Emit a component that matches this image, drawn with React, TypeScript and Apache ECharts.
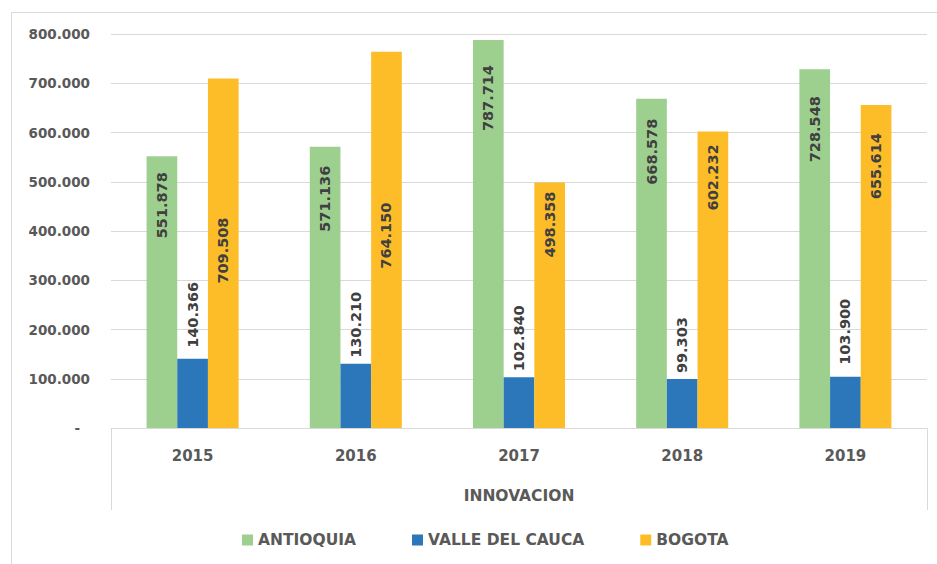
import React, { useEffect, useRef } from "react";
import * as echarts from "echarts";

const years = ["2015", "2016", "2017", "2018", "2019"];
const seriesNames = ["ANTIOQUIA", "VALLE DEL CAUCA", "BOGOTA"];
const antioquia = [551878, 571136, 787714, 668578, 728548];
const valle = [140366, 130210, 102840, 99303, 103900];
const bogota = [709508, 764150, 498358, 602232, 655614];
const axisTitle = "INNOVACION";

// label placement (style only): distance of label end from bar top, px
const antioquiaLabelDist = [16, 19, 25, 20, 27];
const valleLabelDist = [11, 6, 6, 6, 12];
const bogotaLabelDist = [139, 151, 9, 13, 28];

const FONT = "DejaVu Sans";

function fmt(v: number): string {
  const s = Math.round(v).toString();
  return s.replace(/\B(?=(\d{3})+(?!\d))/g, ".");
}

export default function App() {
  const ref = useRef<HTMLDivElement>(null);
  useEffect(() => {
    if (!ref.current) return;
    const chart = echarts.init(ref.current, null, { renderer: "svg" });
    const labelBase = {
      show: true,
      rotate: 90,
      fontFamily: FONT,
      fontWeight: "bold" as const,
      fontSize: 14.5,
      color: "#404040",
      formatter: (p: any) => fmt(p.value),
    };
    const insideTopData = (vals: number[], dists: number[]) =>
      vals.map((v, i) => ({
        value: v,
        label: { distance: dists[i] },
      }));
    chart.setOption({
      animation: false,
      backgroundColor: "#ffffff",
      grid: { left: 111, right: 10, top: 34, bottom: 136 },
      legend: {
        left: 237,
        top: 527,
        itemWidth: 11,
        itemHeight: 11,
        itemGap: 56,
        icon: "rect",
        textStyle: {
          fontFamily: FONT,
          fontWeight: "bold",
          fontSize: 15.5,
          color: "#595959",
        },
        data: seriesNames,
      },
      xAxis: {
        type: "category",
        data: years,
        name: axisTitle,
        nameLocation: "middle",
        nameGap: 60,
        nameTextStyle: {
          fontFamily: FONT,
          fontWeight: "bold",
          fontSize: 15.5,
          color: "#595959",
        },
        axisLine: { show: true, lineStyle: { color: "#d9d9d9", width: 1 } },
        axisTick: { show: false },
        axisLabel: {
          margin: 20,
          fontFamily: FONT,
          fontWeight: "bold",
          fontSize: 15,
          color: "#595959",
        },
      },
      yAxis: {
        type: "value",
        min: 0,
        max: 800000,
        interval: 100000,
        axisLine: { show: false },
        axisTick: { show: false },
        splitLine: { lineStyle: { color: "#d9d9d9", width: 1 } },
        axisLabel: {
          margin: 21,
          fontFamily: FONT,
          fontWeight: "bold",
          fontSize: 13.5,
          color: "#595959",
          formatter: (v: number) => (v === 0 ? "{z|-}" : fmt(v)),
          rich: {
            z: {
              fontFamily: FONT,
              fontWeight: "bold",
              fontSize: 13.5,
              color: "#595959",
              padding: [0, 10, 0, 0],
            },
          },
        },
      },
      series: [
        {
          name: seriesNames[0],
          type: "bar",
          data: insideTopData(antioquia, antioquiaLabelDist),
          barGap: "0%",
          barCategoryGap: "43.6%",
          itemStyle: { color: "#9DD08F" },
          label: { ...labelBase, position: "insideTop", align: "right", verticalAlign: "middle" },
        },
        {
          name: seriesNames[1],
          type: "bar",
          data: insideTopData(valle, valleLabelDist),
          barGap: "0%",
          barCategoryGap: "43.6%",
          itemStyle: { color: "#2B77B9" },
          label: { ...labelBase, position: "top", align: "left", verticalAlign: "middle" },
        },
        {
          name: seriesNames[2],
          type: "bar",
          data: insideTopData(bogota, bogotaLabelDist),
          barGap: "0%",
          barCategoryGap: "43.6%",
          itemStyle: { color: "#FDBD28" },
          label: { ...labelBase, position: "insideTop", align: "right", verticalAlign: "middle" },
        },
      ],
      graphic: [
        {
          type: "rect",
          silent: true,
          shape: { x: 11.5, y: 12.5, width: 940, height: 570 },
          style: { fill: "none", stroke: "#d9d9d9", lineWidth: 1 },
          z: -1,
        },
        {
          type: "line",
          silent: true,
          shape: { x1: 111.5, y1: 428, x2: 111.5, y2: 510 },
          style: { stroke: "#d9d9d9", lineWidth: 1 },
        },
        {
          type: "line",
          silent: true,
          shape: { x1: 927.5, y1: 428, x2: 927.5, y2: 510 },
          style: { stroke: "#d9d9d9", lineWidth: 1 },
        },
      ],
    });
    return () => chart.dispose();
  }, []);
  return (
    <div
      ref={ref}
      style={{ position: "fixed", left: 0, top: 0, width: 937, height: 564 }}
    />
  );
}
